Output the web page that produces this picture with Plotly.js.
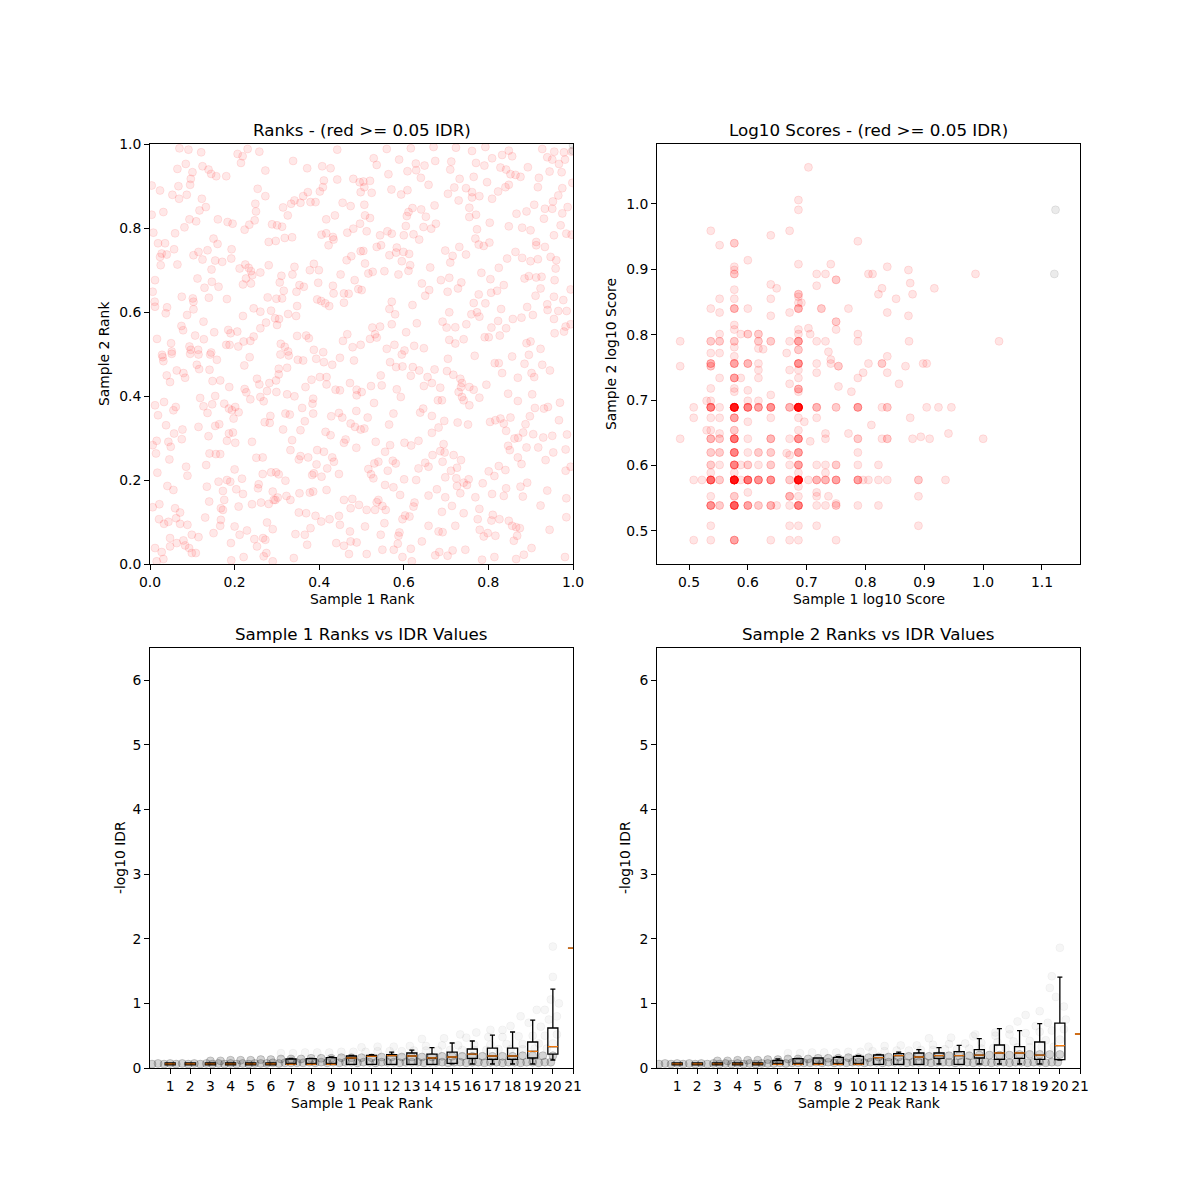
<!DOCTYPE html>
<html>
<head>
<meta charset="utf-8">
<script src="https://cdn.plot.ly/plotly-3.0.1.min.js"></script>
<style>html,body{margin:0;padding:0;background:#fff;}#chart{width:1200px;height:1200px;}</style>
</head>
<body>
<div id="chart"></div>
<script>
// ---------- Panel 1: ranks (rank / N_PEAKS) ----------
const N_PEAKS = 1265;
const s1Rank = [
88,115,153,262,277,292,327,560,428,272,470,515,540,82,107,157,175,183,198,228,
127,122,120,345,520,560,608,627,517,508,472,458,432,450,422,398,480,495,630,5,
30,85,67,87,110,155,167,148,322,345,315,317,576,600,5,40,118,138,103,203,
232,247,283,297,313,365,380,395,412,527,553,608,590,628,10,75,190,202,24,45,
355,376,403,425,513,527,547,534,549,244,145,130,172,157,35,50,30,72,32,82,
195,216,243,630,602,588,285,268,295,302,330,355,432,426,478,490,505,570,184,142,
185,163,205,287,278,302,306,393,388,15,8,503,547,612,447,460,438,400,623,580,
594,549,95,128,130,176,230,352,378,395,500,512,524,536,580,440,14,15,51,130,
47,111,310,330,278,362,374,386,413,437,160,94,99,234,241,261,347,330,380,135,
161,192,21,440,467,475,590,577,310,300,280,63,118,122,144,183,228,238,264,391,
403,413,490,518,606,630,36,65,
708,780,848,915,963,1003,1073,1173,1209,1238,1261,669,678,745,795,821,853,901,898,975,
1000,1023,1053,1083,1130,1188,1203,1223,1241,713,770,796,810,833,638,658,641,663,926,968,
1008,1048,1065,1078,1093,1108,1163,1195,1231,1263,722,751,770,910,891,923,945,963,963,985,
1023,1041,1063,1073,1160,1233,1221,1205,641,785,773,768,811,851,825,955,975,955,1096,1126,
1149,1181,1203,1249,1233,643,658,765,818,841,855,648,688,710,723,759,788,805,978,973,
1016,1073,1113,1138,1155,1178,1228,1208,1245,1261,678,691,638,716,738,736,758,775,753,778,
883,905,898,925,945,983,998,1015,1093,1113,1138,1160,1155,1181,1198,1215,1213,643,653,666,
701,743,773,838,870,895,931,921,991,1018,1043,1068,1058,1038,1020,983,1120,1133,1155,1171,
1210,1168,1153,1208,1236,1258,633,813,835,823,890,723,716,733,785,968,1003,1050,1128,1188,
1189,1221,1246,665,688,673,723,766,798,875,887,895,913,946,961,978,985,1021,1041,1065,
1085,1111,1145,1208,1258,1243,658,678,708,731,761,790,819,895,913,938,1001,1013,1046,1126,
1138,1168,1210,1238,
38,40,65,120,145,180,200,298,390,415,442,458,497,520,545,568,610,80,100,105,
50,60,140,147,178,187,210,282,237,283,288,300,320,327,350,357,377,385,385,410,
465,483,508,528,528,555,568,598,618,618,15,42,24,70,77,150,160,172,195,186,
222,236,245,255,250,265,330,340,378,410,432,488,486,488,455,405,418,360,343,358,
463,542,565,575,617,600,613,630,48,72,97,95,20,8,55,62,145,175,195,207,
236,248,230,255,305,398,425,420,450,525,540,585,580,617,18,58,178,197,210,318,
337,445,450,473,500,520,545,550,498,530,565,22,108,112,168,253,275,240,230,205,
170,218,258,278,325,323,337,362,377,385,405,367,382,370,408,420,447,478,488,485,
490,513,528,52,70,8,28,75,90,78,27,42,55,90,112,177,222,212,218,265,
305,332,355,375,165,212,210,253,268,290,350,367,445,467,495,512,537,565,580,605,
600,625,125,145,190,60,100,80,60,105,117,125,137,15,35,40,20,242,312,320,
338,345,348,340,367,280,243,430,435,463,480,470,557,580,600,618,598,568,595,
753,891,971,1083,1133,718,736,755,786,780,805,830,851,843,868,888,907,928,933,930,
923,955,968,1006,1031,1043,1053,1100,1120,1141,1149,1173,1196,690,661,693,633,670,738,750,
819,861,873,933,938,955,985,1071,1100,1143,1151,1178,1190,1226,651,715,728,808,817,843,
880,863,920,951,1017,1033,1048,1058,1078,1065,1090,1101,1116,1123,1136,1146,1176,1203,1223,1247,
641,675,703,718,761,781,803,843,878,868,881,908,845,930,875,823,833,803,1071,1076,
1100,1111,1126,1161,1206,1183,1243,671,683,726,735,653,661,668,711,760,796,883,900,918,
916,938,953,948,928,918,995,1013,1030,1043,1063,1128,1108,1115,1058,1065,1023,973,1188,1243,
1258,703,728,748,833,858,883,683,678,695,705,673,648,791,788,873,903,938,985,980,
1025,1021,1045,1073,1083,1095,1106,1168,1245,1245,763,776,755,701,643,833,863,875,913,986,
998,1010,1033,1098,1088,1195,690,743,746,741,729,695,648,813,780,755,783,853,865,890,
905,943,993,1030,1095,1118,1141,1241
];
const s2Rank = [
1252,1248,1240,1235,1228,1250,1242,1248,1214,1208,1192,1198,1192,1190,1205,1198,1188,1175,1168,1168,
1180,1160,1142,1185,1155,1158,1160,1150,1135,1122,1120,1108,1095,1088,1085,1074,1090,1090,1120,1140,
1125,1138,1112,1100,1112,1100,1075,1065,1130,1108,1085,1062,1088,1078,1052,1060,1038,1032,1014,1038,
1030,1025,1007,1022,1035,1023,1020,1016,1050,1038,1050,1010,998,1025,998,996,980,964,966,966,
970,973,982,984,992,996,985,960,977,948,940,930,945,917,935,932,925,948,900,902,
914,910,920,942,927,915,902,890,892,882,878,900,895,872,885,904,885,872,887,860,
850,832,835,860,842,845,870,868,848,855,820,847,838,855,840,835,820,823,828,815,
814,815,805,800,790,802,798,803,799,800,797,792,785,777,787,777,790,775,773,767,
755,750,770,760,747,763,740,738,753,747,730,717,704,705,695,700,727,710,720,688,
677,698,678,687,688,680,692,672,685,672,670,665,655,645,645,637,660,660,655,663,
654,640,645,638,653,660,630,640,
1250,1252,1256,1254,1244,1256,1245,1250,1242,1240,1242,1222,1202,1218,1206,1200,1214,1212,1188,1208,
1200,1222,1232,1228,1195,1225,1218,1205,1218,1174,1183,1186,1163,1142,1152,1154,1135,1118,1160,1166,
1150,1194,1188,1174,1172,1166,1163,1182,1180,1148,1128,1113,1126,1134,1115,1095,1132,1120,1104,1108,
1100,1122,1135,1142,1135,1132,1110,1092,1082,1072,1060,1048,1068,1080,1046,1073,1052,1045,1055,1062,
1082,1070,1070,1075,1056,1050,1042,1018,1015,1010,1025,1002,990,1002,995,990,993,977,1008,980,
1028,1017,1013,1005,970,1040,1020,990,995,992,955,960,943,930,953,938,940,934,912,900,
944,928,908,955,932,962,958,968,940,922,912,918,960,955,925,915,890,905,875,880,
882,872,883,893,855,862,848,830,877,858,892,920,840,823,817,812,860,867,863,865,
855,830,808,805,795,827,825,845,825,808,820,790,768,752,780,786,785,768,774,782,
765,762,762,712,715,692,722,698,725,730,712,758,713,722,752,758,745,712,732,710,
738,742,750,738,722,715,678,682,648,660,643,657,650,675,664,677,683,683,688,665,
670,648,695,700,
623,611,633,633,631,631,615,623,631,628,615,613,618,608,600,621,613,583,575,561,
568,548,600,587,585,551,553,598,533,527,517,496,558,541,521,545,553,588,571,591,
533,555,563,563,541,525,523,545,525,508,478,488,448,463,473,500,475,455,506,481,
483,468,463,473,438,457,503,490,518,511,505,498,483,453,470,453,450,446,427,425,
430,445,455,441,461,423,413,405,418,393,405,376,371,358,368,353,413,385,416,421,
393,396,371,365,368,405,373,343,403,398,388,375,365,350,333,315,333,331,331,320,
321,315,325,321,343,338,321,308,300,288,271,275,293,266,298,285,257,248,253,248,
233,220,225,211,240,228,271,276,276,270,251,218,200,193,205,193,213,215,218,268,
273,263,223,235,223,171,180,168,155,138,135,121,127,121,118,188,193,168,163,173,
180,185,181,193,140,133,115,113,88,101,125,105,155,153,145,128,135,145,193,196,
168,178,88,81,93,78,71,63,53,56,48,33,33,48,36,15,8,63,75,53,
78,73,33,23,8,21,11,18,90,88,108,58,63,55,68,65,98,118,30,
631,618,627,625,630,608,593,595,593,567,583,563,586,545,531,581,570,558,545,533,
518,533,525,540,605,605,575,561,603,575,563,600,583,568,536,538,518,485,526,503,
536,493,493,503,493,478,501,513,491,511,470,468,473,486,441,420,453,456,468,446,
431,411,426,420,428,433,438,423,441,401,378,380,396,421,445,391,381,386,433,390,
408,368,338,358,365,357,371,395,361,340,336,328,328,313,308,305,293,288,356,343,
321,301,351,351,336,313,345,303,308,311,303,286,270,258,281,255,253,261,281,290,
258,245,255,238,213,235,243,279,265,295,283,245,233,203,205,228,211,201,221,281,
293,238,231,208,206,225,201,193,186,175,163,163,163,185,173,157,175,153,166,135,
148,131,135,130,115,111,108,176,198,141,146,143,135,123,113,115,98,96,115,103,
83,93,85,85,70,103,88,85,95,61,43,43,30,68,46,21,8,26,36,25,
41,43,13,21,15,28,48,21
];
// peaks below the IDR threshold (drawn grey)
const passS1Rank = [1265, 1265];
const passS2Rank = [1245, 1262];

// ---------- Panel 2: log10 scores (value pairs with number of peaks) ----------
const scoreS1 = [
0.537,0.537,0.537,0.537,0.537,0.537,0.537,0.537,0.537,0.537,0.537,0.537,0.537,0.537,0.537,0.537,0.537,0.537,0.537,0.537,
0.577,0.577,0.577,0.577,0.577,0.577,0.577,0.577,0.577,0.577,0.577,0.577,0.577,0.577,0.577,0.577,0.577,0.577,0.577,0.577,0.577,0.577,0.577,0.577,0.577,0.577,0.577,
0.600,0.600,0.600,0.600,0.600,0.600,0.600,0.600,0.600,0.600,0.600,0.600,0.600,0.600,
0.618,0.618,0.618,0.618,0.618,0.618,0.618,0.618,0.618,0.618,0.618,0.618,
0.639,0.639,0.639,0.639,0.639,0.639,0.639,0.639,0.639,0.639,0.639,0.639,0.639,0.639,
0.649,0.649,
0.671,0.671,0.671,0.671,0.671,0.671,0.671,0.671,0.671,0.671,0.671,0.671,0.671,0.671,
0.686,0.686,0.686,0.686,0.686,0.686,0.686,0.686,0.686,0.686,0.686,0.686,0.686,0.686,0.686,0.686,0.686,0.686,0.686,0.686,0.686,0.686,0.686,0.686,0.686,0.686,0.686,0.686,0.686,
0.691,0.696,0.706,0.706,
0.717,0.717,0.717,0.717,0.717,0.717,0.717,0.717,0.717,0.717,0.717,0.717,0.717,
0.725,
0.732,0.732,0.732,0.732,0.732,0.732,0.732,0.732,
0.741,0.741,0.741,
0.750,0.750,0.750,0.750,0.750,0.750,0.750,0.750,0.750,
0.754,0.754,0.771,0.771,0.776,
0.787,0.787,0.787,0.787,0.787,0.787,0.787,0.787,0.787,0.787,
0.796,0.796,0.805,0.805,0.805,0.812,0.810,
0.822,0.822,0.822,0.822,0.828,0.828,0.828,0.828,
0.837,0.837,0.837,0.837,0.837,0.837,0.837,
0.852,0.857,0.868,0.873,0.873,0.874,0.876,0.876,0.880,0.880,
0.890,0.890,0.890,0.894,0.898,0.904,0.904,0.909,0.917,0.924,0.936,0.941,0.946,0.987,1.000,1.027,
0.485,0.485,0.485,0.508,0.508,0.508,0.508,0.522,0.530,0.530,
0.552,0.552,0.552,0.552,0.552,0.552,0.552,0.552,0.552,0.552,0.552,0.552,0.552,0.552,0.552,
0.588,0.588,0.588,0.588,0.626,0.666,0.666,0.703,0.703,0.703,0.737,0.737
];
const scoreS2 = [
0.959,0.840,0.790,0.772,0.756,0.752,0.718,0.699,0.689,0.673,0.654,0.641,0.620,0.601,0.589,0.578,0.553,0.539,0.508,0.486,
0.940,0.904,0.899,0.893,0.869,0.855,0.840,0.815,0.808,0.790,0.781,0.767,0.756,0.734,0.718,0.713,0.689,0.673,0.654,0.641,0.620,0.601,0.589,0.578,0.553,0.539,0.486,
0.914,0.840,0.801,0.756,0.715,0.699,0.689,0.667,0.641,0.620,0.601,0.578,0.559,0.539,
0.801,0.790,0.779,0.756,0.746,0.734,0.699,0.689,0.620,0.601,0.578,0.539,
0.952,0.877,0.855,0.829,0.790,0.708,0.689,0.673,0.641,0.620,0.601,0.578,0.539,0.486,
0.871,0.539,
0.959,0.834,0.790,0.746,0.725,0.689,0.641,0.616,0.601,0.578,0.553,0.539,0.508,0.486,
1.006,0.991,0.908,0.862,0.858,0.849,0.840,0.808,0.801,0.790,0.777,0.756,0.746,0.734,0.717,0.713,0.689,0.673,0.654,0.641,0.620,0.601,0.589,0.578,0.568,0.553,0.539,0.508,0.486,
0.849,0.667,0.801,0.637,
0.893,0.875,0.790,0.756,0.742,0.689,0.673,0.601,0.578,0.559,0.553,0.539,0.508,
0.840,
0.893,0.790,0.649,0.641,0.601,0.589,0.578,0.539,
0.908,0.762,0.756,
0.884,0.820,0.808,0.689,0.601,0.578,0.542,0.539,0.486,
0.752,0.721,0.840,0.649,0.713,
0.943,0.801,0.790,0.734,0.689,0.641,0.620,0.601,0.578,0.539,
0.742,0.578,0.893,0.756,0.578,0.893,0.662,
0.862,0.601,0.578,0.539,0.871,0.756,0.689,0.641,
0.904,0.834,0.767,0.742,0.689,0.641,0.578,
0.855,0.725,0.752,0.899,0.829,0.790,0.879,0.673,0.862,0.641,
0.578,0.553,0.508,0.644,0.756,0.756,0.689,0.641,0.871,0.689,0.578,0.649,0.689,0.893,0.641,0.790,
0.790,0.752,0.641,0.689,0.673,0.578,0.486,0.578,0.699,0.654,
0.937,0.855,0.834,0.801,0.790,0.772,0.734,0.689,0.673,0.649,0.641,0.620,0.601,0.578,0.539,
0.801,0.734,0.601,0.578,0.778,0.772,0.619,1.056,0.810,0.578,0.774,0.553
];
const peakCount = [
1,1,2,1,3,2,1,1,6,1,1,3,2,2,1,8,1,5,1,1,
2,1,1,2,1,1,3,1,1,2,1,1,4,4,1,1,20,4,2,7,6,6,1,22,2,9,4,
1,1,2,3,1,1,6,1,1,1,2,7,1,4,
2,2,1,1,1,1,1,4,2,1,5,2,
1,1,1,1,2,1,5,1,3,2,2,5,3,1,
1,1,
1,1,1,1,1,3,1,1,1,2,3,1,1,1,
1,1,1,2,1,1,3,1,1,4,2,5,1,1,3,1,22,1,1,5,4,4,1,22,1,1,6,1,1,
1,1,1,1,
1,1,1,1,1,3,1,1,3,1,1,1,1,
2,
1,1,1,1,1,1,3,1,
1,1,1,
2,2,1,2,2,4,1,2,1,
2,1,1,1,1,
1,1,1,1,4,2,1,1,4,1,
1,1,1,1,1,1,1,
1,1,1,1,1,2,1,1,
1,1,1,1,2,2,1,
1,1,1,1,1,1,1,1,1,1,
2,1,1,1,1,1,1,1,1,1,1,1,1,1,1,1,
1,1,1,1,1,1,1,1,1,1,
1,1,1,1,2,1,1,1,1,1,2,2,1,2,2,
1,1,1,1,1,1,1,1,1,1,1,1
];
const passScoreS1 = [1.123, 1.121];
const passScoreS2 = [0.991, 0.893];

// ---------- Panels 3 & 4: -log10 IDR by peak-rank bin ----------
const rankBins = [1,2,3,4,5,6,7,8,9,10,11,12,13,14,15,16,17,18,19,20,21];
const binLabels = ['1','2','3','4','5','6','7','8','9','10','11','12','13','14','15','16','17','18','19','20','21'];

const s1Q1  = [0.047,0.047,0.047,0.047,0.047,0.047,0.057,0.057,0.057,0.057,0.057,0.057,0.057,0.057,0.072,0.149,0.134,0.134,0.155,0.216,1.856];
const s1Med = [0.063,0.063,0.063,0.063,0.063,0.063,0.057,0.057,0.057,0.155,0.180,0.190,0.186,0.155,0.170,0.216,0.186,0.186,0.258,0.330,1.856];
const s1Q3  = [0.078,0.078,0.078,0.078,0.078,0.078,0.139,0.144,0.160,0.186,0.196,0.206,0.232,0.216,0.247,0.294,0.309,0.309,0.402,0.619,1.856];
const s1Lo  = [0.047,0.047,0.047,0.047,0.047,0.047,0.057,0.057,0.057,0.057,0.057,0.057,0.057,0.057,0.065,0.062,0.062,0.062,0.062,0.124,1.856];
const s1Hi  = [0.078,0.078,0.078,0.078,0.078,0.078,0.150,0.150,0.170,0.196,0.206,0.247,0.278,0.314,0.387,0.418,0.510,0.557,0.742,1.220,1.856];

const s2Q1  = [0.047,0.047,0.047,0.047,0.047,0.057,0.057,0.057,0.057,0.057,0.057,0.057,0.057,0.149,0.057,0.155,0.134,0.149,0.134,0.129,0.526];
const s2Med = [0.063,0.063,0.063,0.063,0.063,0.057,0.057,0.057,0.057,0.057,0.160,0.190,0.170,0.190,0.190,0.200,0.232,0.232,0.200,0.345,0.526];
const s2Q3  = [0.078,0.078,0.078,0.078,0.078,0.113,0.144,0.155,0.165,0.180,0.201,0.222,0.232,0.232,0.253,0.283,0.356,0.330,0.402,0.696,0.526];
const s2Lo  = [0.047,0.047,0.047,0.047,0.047,0.057,0.057,0.057,0.057,0.057,0.057,0.057,0.057,0.062,0.057,0.062,0.062,0.062,0.062,0.124,0.526];
const s2Hi  = [0.078,0.078,0.078,0.078,0.078,0.139,0.150,0.155,0.175,0.190,0.206,0.247,0.283,0.314,0.350,0.454,0.608,0.577,0.686,1.407,0.526];

// individual peaks (scaled rank, -log10 IDR): dense low band and sparse upper part
const s1DenseX = [0.1,0.4,0.7,1.0,1.3,1.6,1.9,2.2,2.5,2.8,3.1,3.4,3.7,4.0,4.3,4.6,4.9,5.2,5.5,5.8,6.1,6.4,6.7,7.0,7.3,7.6,7.9,8.2,8.5,8.8,9.1,9.4,9.7,10.0,10.3,10.6,10.9,11.2,11.5,11.8,12.1,12.4,12.7,13.0,13.3,13.6,13.9,14.2,14.5,14.8,15.1,15.4,15.7,16.0,16.3,16.6,16.9,17.2,17.5,17.8,18.1,18.4,18.7,19.0,19.3,19.6,19.9,
3.0,3.5,4.0,4.5,5.0,5.5,6.0,6.5,7.0,7.5,8.0,8.5,9.0,9.5,10.0,10.5,11.0,11.5,12.0,12.5,13.0,13.5,14.0,14.5,15.0,15.5,16.0,16.5,17.0,17.5,18.0,18.5,19.0,19.5,20.0];
const s1DenseY = [0.06,0.07,0.06,0.07,0.06,0.07,0.06,0.07,0.06,0.07,0.06,0.07,0.06,0.07,0.06,0.07,0.06,0.07,0.07,0.07,0.08,0.07,0.08,0.08,0.08,0.08,0.09,0.08,0.09,0.08,0.09,0.08,0.09,0.09,0.08,0.09,0.09,0.08,0.09,0.09,0.09,0.08,0.09,0.09,0.09,0.08,0.09,0.09,0.09,0.08,0.09,0.09,0.08,0.09,0.09,0.08,0.09,0.09,0.08,0.09,0.09,0.08,0.09,0.09,0.08,0.09,0.09,
0.11,0.11,0.12,0.12,0.12,0.13,0.13,0.14,0.14,0.14,0.15,0.15,0.15,0.16,0.16,0.16,0.16,0.17,0.17,0.17,0.17,0.17,0.17,0.18,0.18,0.18,0.18,0.18,0.18,0.18,0.18,0.19,0.19,0.19,0.19];
const s1SparseX = [6.5,7.1,7.7,8.3,8.9,9.5,10.1,10.7,11.3,11.9,12.5,13.1,13.7,14.3,14.9,15.5,16.1,16.7,17.3,17.9,18.5,19.1,19.7,
10.5,11.3,12.1,12.9,13.7,14.5,15.3,16.1,16.9,17.7,18.5,19.3,20.0,
13.5,14.6,15.7,16.8,17.5,18.3,19.0,19.6,20.2,
16.9,17.5,18.4,19.2,19.6,19.4,19.9,20.0,20.0,18.8,20.2,19.8,17.9,20.3,16.2,15.4];
const s1SparseY = [0.23,0.23,0.24,0.24,0.24,0.25,0.25,0.25,0.26,0.26,0.26,0.27,0.27,0.27,0.28,0.28,0.28,0.28,0.29,0.29,0.29,0.30,0.30,
0.32,0.33,0.33,0.34,0.34,0.35,0.35,0.36,0.36,0.37,0.37,0.38,0.38,
0.45,0.46,0.47,0.48,0.48,0.49,0.50,0.50,0.52,
0.59,0.59,0.80,0.90,0.90,0.64,1.06,1.41,1.88,0.70,0.80,0.75,0.65,1.00,0.55,0.52];

const s2DenseX = s1DenseX.slice();
const s2DenseY = [0.06,0.07,0.06,0.07,0.06,0.07,0.06,0.07,0.06,0.07,0.06,0.07,0.06,0.07,0.06,0.07,0.06,0.07,0.07,0.07,0.08,0.07,0.08,0.08,0.08,0.08,0.09,0.08,0.09,0.08,0.09,0.08,0.09,0.09,0.08,0.09,0.09,0.08,0.09,0.09,0.09,0.08,0.09,0.09,0.09,0.08,0.09,0.09,0.09,0.08,0.09,0.09,0.08,0.09,0.09,0.08,0.09,0.09,0.08,0.09,0.09,0.08,0.09,0.09,0.08,0.09,0.09,
0.11,0.11,0.12,0.12,0.12,0.13,0.13,0.14,0.14,0.14,0.15,0.15,0.15,0.16,0.16,0.16,0.17,0.17,0.17,0.18,0.18,0.18,0.19,0.19,0.19,0.19,0.20,0.20,0.20,0.20,0.21,0.21,0.21,0.21,0.21];
const s2SparseX = [6.5,7.1,7.7,8.3,8.9,9.5,10.1,10.7,11.3,11.9,12.5,13.1,13.7,14.3,14.9,15.5,16.1,16.7,17.3,17.9,18.5,19.1,19.7,
10.5,11.3,12.1,12.9,13.7,14.5,15.3,16.1,16.9,17.7,18.5,19.3,20.0,
13.5,14.6,15.7,16.8,17.5,18.3,19.0,19.6,20.2,
20.0,19.6,19.5,19.8,18.3,19.0,19.4,20.2,18.8,17.5,16.8,17.9,20.3,15.8];
const s2SparseY = [0.23,0.23,0.24,0.24,0.24,0.25,0.25,0.26,0.26,0.27,0.27,0.28,0.28,0.29,0.29,0.30,0.30,0.31,0.31,0.32,0.32,0.33,0.33,
0.33,0.34,0.35,0.35,0.36,0.37,0.38,0.39,0.40,0.41,0.42,0.43,0.44,
0.46,0.47,0.49,0.50,0.52,0.54,0.56,0.58,0.60,
1.86,1.42,1.24,1.10,0.82,0.88,0.70,0.95,0.65,0.60,0.55,0.72,0.75,0.52];

// ---------- build traces ----------
const RED = 'rgba(255,0,0,0.09)';
const GREY = 'rgba(0,0,0,0.08)';
function dot(col, size) { return {color: col, size: size || 8, line: {color: col, width: 1}}; }

const traces = [];
traces.push({type:'scatter', mode:'markers', xaxis:'x', yaxis:'y',
  x: s1Rank.map(r => r / N_PEAKS), y: s2Rank.map(r => r / N_PEAKS), marker: dot(RED), hoverinfo:'skip'});
traces.push({type:'scatter', mode:'markers', xaxis:'x', yaxis:'y',
  x: passS1Rank.map(r => r / N_PEAKS), y: passS2Rank.map(r => r / N_PEAKS), marker: dot(GREY), hoverinfo:'skip'});

const ex = [], ey = [];
for (let i = 0; i < scoreS1.length; i++) {
  for (let k = 0; k < peakCount[i]; k++) { ex.push(scoreS1[i]); ey.push(scoreS2[i]); }
}
traces.push({type:'scatter', mode:'markers', xaxis:'x2', yaxis:'y2', x: ex, y: ey, marker: dot('rgba(255,0,0,0.1)'), hoverinfo:'skip'});
traces.push({type:'scatter', mode:'markers', xaxis:'x2', yaxis:'y2', x: passScoreS1, y: passScoreS2, marker: dot(GREY), hoverinfo:'skip'});

function boxes(xa, ya, q1, med, q3, lo, hi) {
  const common = {type:'box', xaxis:xa, yaxis:ya, x: rankBins, orientation:'v', width:0.5, whiskerwidth:0.5,
    fillcolor:'rgba(0,0,0,0)', boxpoints:false, hoverinfo:'skip', showlegend:false};
  return [
    Object.assign({}, common, {q1: q1, median: med, q3: q3, lowerfence: lo, upperfence: hi, line:{color:'#000000', width:1.3}}),
    Object.assign({}, common, {q1: med, median: med, q3: med, lowerfence: med, upperfence: med, line:{color:'#ff7f0e', width:1.3}})
  ];
}
function cloud(xa, ya, xs, ys, alpha) {
  const c = 'rgba(0,0,0,' + alpha + ')';
  return {type:'scatter', mode:'markers', xaxis:xa, yaxis:ya, x: xs, y: ys, marker: dot(c), hoverinfo:'skip'};
}
traces.push(cloud('x3','y3', s1DenseX, s1DenseY, 0.17));
traces.push(cloud('x3','y3', s1SparseX, s1SparseY, 0.035));
traces.push(...boxes('x3','y3', s1Q1, s1Med, s1Q3, s1Lo, s1Hi));
traces.push(cloud('x4','y4', s2DenseX, s2DenseY, 0.17));
traces.push(cloud('x4','y4', s2SparseX, s2SparseY, 0.035));
traces.push(...boxes('x4','y4', s2Q1, s2Med, s2Q3, s2Lo, s2Hi));

// ---------- layout ----------
const TICK = 13.9;
function ax(domain, range, tickvals, ticktext, anchor) {
  const a = {domain: domain, range: range, anchor: anchor, showgrid:false, zeroline:false,
    showline:true, mirror:true, linecolor:'#000', linewidth:1,
    ticks:'outside', ticklen:5, tickwidth:1, tickcolor:'#000',
    tickfont:{size:TICK, color:'#000'}, tickvals: tickvals, fixedrange:true};
  if (ticktext) a.ticktext = ticktext;
  return a;
}
const XL = [0.125, 0.4775], XR = [0.5475, 0.9], YT = [0.53, 0.88], YB = [0.11, 0.46];
const layout = {
  width:1200, height:1200, margin:{l:0, r:0, t:0, b:0},
  paper_bgcolor:'#fff', plot_bgcolor:'#fff', showlegend:false,
  font:{family:'DejaVu Sans, sans-serif', color:'#000', size:TICK},
  boxmode:'overlay',
  xaxis:  ax(XL, [0,1], [0,0.2,0.4,0.6,0.8,1.0], ['0.0','0.2','0.4','0.6','0.8','1.0'], 'y'),
  yaxis:  ax(YT, [0,1], [0,0.2,0.4,0.6,0.8,1.0], ['0.0','0.2','0.4','0.6','0.8','1.0'], 'x'),
  xaxis2: ax(XR, [0.4456,1.1646], [0.5,0.6,0.7,0.8,0.9,1.0,1.1], ['0.5','0.6','0.7','0.8','0.9','1.0','1.1'], 'y2'),
  yaxis2: ax(YT, [0.4495,1.0917], [0.5,0.6,0.7,0.8,0.9,1.0], ['0.5','0.6','0.7','0.8','0.9','1.0'], 'x2'),
  xaxis3: ax(XL, [0,21], rankBins, binLabels, 'y3'),
  yaxis3: ax(YB, [0,6.5], [0,1,2,3,4,5,6], null, 'x3'),
  xaxis4: ax(XR, [0,21], rankBins, binLabels, 'y4'),
  yaxis4: ax(YB, [0,6.5], [0,1,2,3,4,5,6], null, 'x4'),
  annotations: []
};
function label(text, px, py, size, angle) {
  layout.annotations.push({text: text, xref:'paper', yref:'paper', x: px/1200, y: 1 - py/1200,
    xanchor:'center', yanchor:'middle', showarrow:false, textangle: angle || 0,
    font:{size: size, color:'#000'}});
}
label('Ranks - (red >= 0.05 IDR)', 361.5, 130, 16.7);
label('Log10 Scores - (red >= 0.05 IDR)', 868.5, 130, 16.7);
label('Sample 1 Ranks vs IDR Values', 361.5, 634, 16.7);
label('Sample 2 Ranks vs IDR Values', 868.5, 634, 16.7);
label('Sample 1 Rank', 361.5, 599, TICK);
label('Sample 1 log10 Score', 868.5, 599, TICK);
label('Sample 1 Peak Rank', 361.5, 1103, TICK);
label('Sample 2 Peak Rank', 868.5, 1103, TICK);
label('Sample 2 Rank', 104, 354, TICK, -90);
label('Sample 2 log10 Score', 611, 354, TICK, -90);
label('-log10 IDR', 120, 858, TICK, -90);
label('-log10 IDR', 625, 858, TICK, -90);

Plotly.newPlot('chart', traces, layout, {staticPlot:true, displayModeBar:false});
</script>
</body>
</html>
